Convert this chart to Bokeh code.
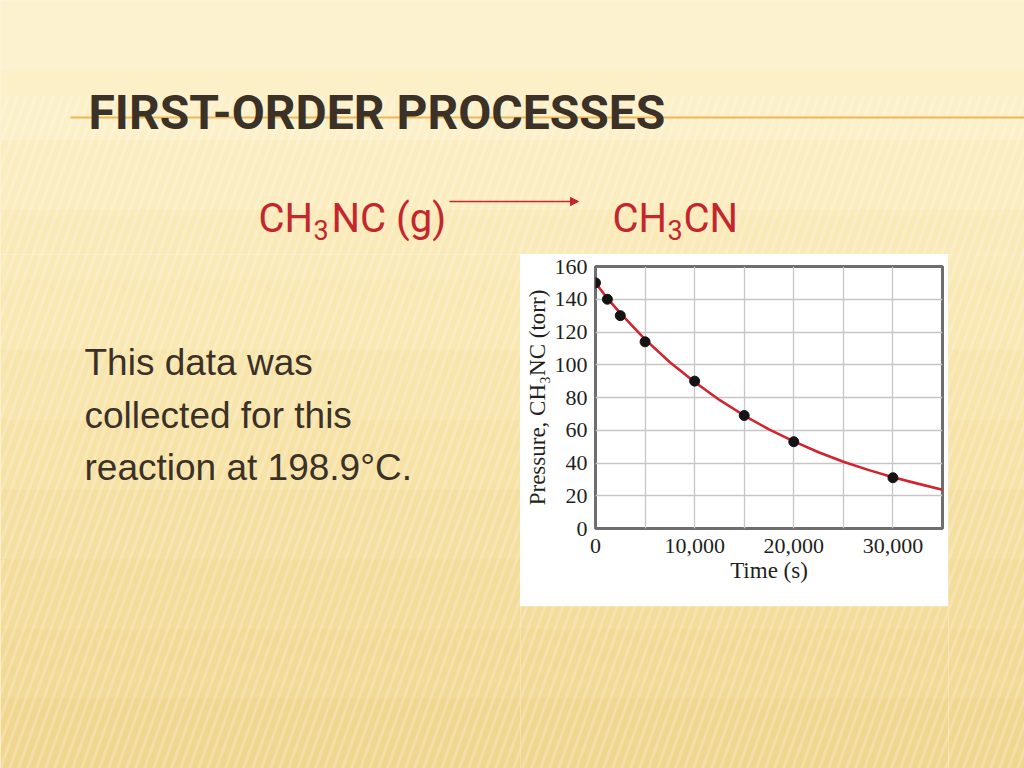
from bokeh.plotting import figure
from bokeh.layouts import column, row
from bokeh.models import Range1d, FixedTicker, Arrow, NormalHead
from bokeh.core.properties import value
from bokeh.embed import file_html
from bokeh.resources import INLINE

# ---------------- data ----------------
time_s = [0, 1200, 2500, 5000, 10000, 15000, 20000, 30000]
pressure_torr = [150, 140, 130, 114, 90, 69, 53, 31]

curve_time_s = [0, 1200, 2500, 5000, 7500, 10000, 12500, 15000, 17500,
                20000, 22500, 25000, 27500, 30000, 32500, 35000]
curve_pressure_torr = [150, 140.5, 131.5, 115.5, 101.5, 89.5, 78.5, 69, 60.5,
                       53.2, 46.6, 40.8, 35.8, 31.3, 27.4, 23.6]

x_tick_values = [0, 10000, 20000, 30000]
x_tick_labels = ["0", "10,000", "20,000", "30,000"]
x_grid_values = [0, 5000, 10000, 15000, 20000, 25000, 30000, 35000]
y_tick_values = [0, 20, 40, 60, 80, 100, 120, 140, 160]

slide_title = "FIRST-ORDER PROCESSES"
body_lines = ["This data was", "collected for this", "reaction at 198.9°C."]
x_label = "Time (s)"
y_label = "Pressure, CH\u2083NC (torr)"

# ---------------- styles ----------------
W, H = 1024, 768
CX, CY, CW, CH = 520, 254, 428, 352      # chart card on the page
RED = "#C4262E"
DARK = "#3B3126"
SERIF = "Liberation Serif"
HEAD = "Roboto"
SANS = "Liberation Sans"

band_colors = ["#FCF2D0", "#FCF0C8", "#FBEDBF", "#FAEAB8", "#F9E8B2",
               "#F8E5AC", "#F7E2A6", "#F5DFA0", "#F4DC9A", "#F2D995", "#F0D68F"]


def panel(x0, y0, w, h, seam_band):
    """A plain figure whose data units are page pixels (y grows downward)."""
    f = figure(width=w, height=h, x_range=Range1d(x0, x0 + w), y_range=Range1d(y0 + h, y0),
               output_backend="svg", toolbar_location=None, min_border=0,
               x_axis_type=None, y_axis_type=None)
    f.grid.visible = False
    f.outline_line_color = None
    f.border_fill_color = band_colors[seam_band]
    f.background_fill_color = band_colors[seam_band]
    bh = H / len(band_colors)
    f.quad(left=[0] * len(band_colors), right=[W] * len(band_colors),
           top=[i * bh for i in range(len(band_colors))],
           bottom=[(i + 1) * bh + 1 for i in range(len(band_colors))],
           fill_color=band_colors, line_color=None)
    # faint diagonal stripes of the slide background
    xs0, ys0, xs1, ys1 = [], [], [], []
    for k in range(-40, 140):
        xb = k * 9.0
        xs0.append(xb)
        ys0.append(H)
        xs1.append(xb + 0.36 * (H - 95))
        ys1.append(95)
    f.segment(x0=xs0, y0=ys0, x1=xs1, y1=ys1, line_color="white", line_alpha=0.22, line_width=3)
    return f


def texts(f, xs, ys, ts, font, size, color, style="normal"):
    f.text(x=xs, y=ys, text=ts, text_font=value(font), text_font_size=value(size),
           text_color=color, text_font_style=style, text_baseline="alphabetic",
           text_align="left")


# ---- top panel: title, rule, reaction ----
top = panel(0, 0, W, CY, 3)
top.segment(x0=[70], y0=[117], x1=[W], y1=[117], line_color="#EDB659", line_width=2)
texts(top, [88], [112], [slide_title], HEAD, "48px", DARK, style="bold")
texts(top, [258, 331, 612, 683], [218, 218, 218, 218], ["CH", "NC (g)", "CH", "CN"],
      HEAD, "40px", RED)
texts(top, [313, 667], [229, 229], ["3", "3"], HEAD, "27px", RED)
top.add_layout(Arrow(end=NormalHead(size=8, fill_color=RED, line_color=RED),
                     x_start=449, y_start=201, x_end=578, y_end=201,
                     line_color=RED, line_width=1.5))

# ---- left panel: body text ----
left = panel(0, CY, CX, H - CY, 4)
texts(left, [84, 84, 84], [362, 414.5, 467], body_lines, SANS, "37px", DARK)

# ---- filler panels ----
right = panel(CX + CW, CY, W - CX - CW, H - CY, 6)
below = panel(CX, CY + CH, CW, H - CY - CH, 9)

# ---- chart ----
FL, FR, FT, FB = 595, 942, 266, 528   # plot frame edges on the page
p = figure(width=CW, height=CH, x_range=(0, 35000), y_range=(0, 160),
           output_backend="svg", toolbar_location=None,
           min_border_left=FL - CX, min_border_right=CX + CW - FR,
           min_border_top=FT - CY, min_border_bottom=CY + CH - FB)
p.border_fill_color = "white"
p.background_fill_color = "white"
p.outline_line_color = "#6E6E6E"
p.outline_line_width = 3

p.xgrid.ticker = FixedTicker(ticks=x_grid_values)
p.ygrid.ticker = FixedTicker(ticks=y_tick_values)
for g in (p.xgrid, p.ygrid):
    g.grid_line_color = "#C6C6C6"
    g.grid_line_width = 1.3

p.xaxis.ticker = FixedTicker(ticks=x_tick_values)
p.xaxis.major_label_overrides = {v: l for v, l in zip(x_tick_values, x_tick_labels)}
p.yaxis.ticker = FixedTicker(ticks=y_tick_values)
for ax in (p.xaxis, p.yaxis):
    ax.axis_line_color = None
    ax.major_tick_line_color = None
    ax.minor_tick_line_color = None
    ax.major_label_text_font = SERIF
    ax.major_label_text_font_size = "22px"
    ax.major_label_text_color = "#231F20"
    ax.axis_label_text_font = SERIF
    ax.axis_label_text_font_size = "23px"
    ax.axis_label_text_font_style = "normal"
    ax.axis_label_text_color = "#231F20"
p.xaxis.major_label_standoff = 4
p.yaxis.major_label_standoff = 2
p.xaxis.axis_label = x_label
p.yaxis.axis_label = y_label
p.xaxis.axis_label_standoff = 2
p.yaxis.axis_label_standoff = 2

p.line(curve_time_s, curve_pressure_torr, line_color="#D3232F", line_width=2.6)
p.scatter(time_s, pressure_torr, size=10, fill_color="#141414", line_color="#141414")

layout = column(top, row(left, column(p, row(below)), right))
open("out.html", "w").write(file_html(layout, INLINE))
